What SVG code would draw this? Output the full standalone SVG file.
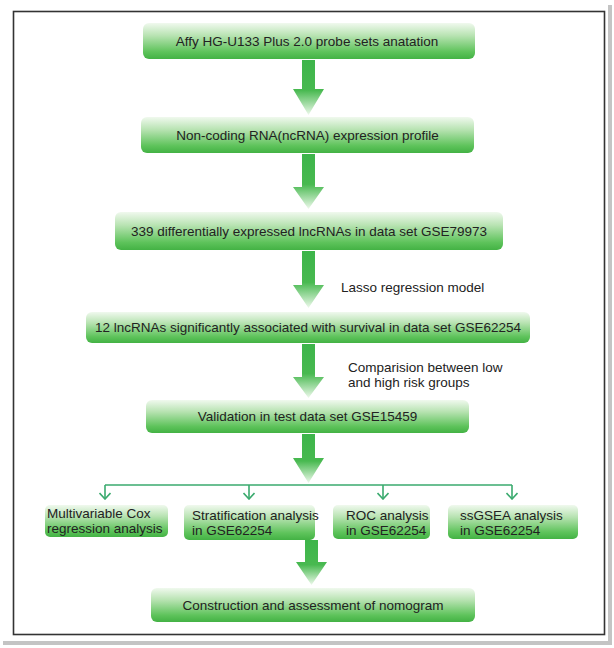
<svg xmlns="http://www.w3.org/2000/svg" width="614" height="648" viewBox="0 0 614 648">
<defs>
<linearGradient id="boxg" x1="0" y1="0" x2="0" y2="1">
<stop offset="0" stop-color="#f0f9ee"/>
<stop offset="0.35" stop-color="#b8e3b2"/>
<stop offset="0.8" stop-color="#5ec35b"/>
<stop offset="1" stop-color="#43b244"/>
</linearGradient>
<linearGradient id="arrg" x1="0" y1="0" x2="0" y2="1">
<stop offset="0" stop-color="#3db54a"/>
<stop offset="0.55" stop-color="#48b950"/>
<stop offset="1" stop-color="#eef9ec"/>
</linearGradient>
<marker id="chev" viewBox="0 0 10 12" refX="9" refY="6" markerWidth="10" markerHeight="12" markerUnits="userSpaceOnUse" orient="auto">
<path d="M3,0.5 L9,6 L3,11.5" fill="none" stroke="#3aaa6e" stroke-width="1.6"/>
</marker>
</defs>
<style>
.box{fill:url(#boxg);}
.t{font-family:"Liberation Sans",Arial,sans-serif;font-size:13.5px;fill:#222;}
.c{text-anchor:middle;}
.arr{fill:url(#arrg);}
.ln{fill:none;stroke:#3aaa6e;stroke-width:1.6;}
</style>
<rect x="0" y="0" width="614" height="648" fill="#ffffff"/>
<rect x="608" y="5" width="4" height="640" fill="#c4c4c4"/>
<rect x="3" y="641" width="609" height="4" fill="#c4c4c4"/>
<rect x="13.5" y="11.5" width="591" height="623" fill="#ffffff" stroke="#333" stroke-width="1.6"/>

<g id="connectors">
<polygon class="arr" points="302,60 315,60 315,89 324,89 308.5,115 293,89 302,89"/>
<polygon class="arr" points="302,154 315,154 315,187 324,187 308.5,209 293,187 302,187"/>
<polygon class="arr" points="302,251 315,251 315,285 324,285 308.5,308 293,285 302,285"/>
<polygon class="arr" points="302,344 315,344 315,377 324,377 308.5,398 293,377 302,377"/>
<polygon class="arr" points="302,434 315,434 315,458 324,458 308.5,483 293,458 302,458"/>
<polygon class="arr" points="305,540 318,540 318,562 327,562 311.5,585 296,562 305,562"/>
<path class="ln" d="M105,485 H512"/>
<path class="ln" d="M105,485 V499" marker-end="url(#chev)"/>
<path class="ln" d="M249,485 V499" marker-end="url(#chev)"/>
<path class="ln" d="M383,485 V499" marker-end="url(#chev)"/>
<path class="ln" d="M512,485 V499" marker-end="url(#chev)"/>
<text class="t" x="341" y="292">Lasso regression model</text>
<text class="t" x="348" y="372">Comparision between low</text>
<text class="t" x="348" y="387">and high risk groups</text>
</g>

<g id="n1"><rect class="box" x="143" y="23" width="332" height="36" rx="6"/><text class="t c" x="307" y="41.5" dy="4.5">Affy HG-U133 Plus 2.0 probe sets anatation</text></g>
<g id="n2"><rect class="box" x="141" y="117" width="333" height="36" rx="6"/><text class="t c" x="307.5" y="135.5" dy="4.5">Non-coding RNA(ncRNA) expression profile</text></g>
<g id="n3"><rect class="box" x="115" y="212" width="388" height="38" rx="6"/><text class="t c" x="309" y="231" dy="4.5">339 differentially expressed lncRNAs in data set GSE79973</text></g>
<g id="n4"><rect class="box" x="86" y="312" width="444" height="31" rx="6"/><text class="t c" x="308" y="327.5" dy="4.5">12 lncRNAs significantly associated with survival in data set GSE62254</text></g>
<g id="n5"><rect class="box" x="146" y="400" width="323" height="33" rx="6"/><text class="t c" x="307.5" y="416.5" dy="4.5">Validation in test data set GSE15459</text></g>
<g id="n6"><rect class="box" x="45" y="505" width="123" height="32" rx="5"/><text class="t" x="47" y="518">Multivariable Cox</text><text class="t" x="47" y="533">regression analysis</text></g>
<g id="n7"><rect class="box" x="184" y="505" width="131" height="35" rx="5"/><text class="t" x="192" y="520">Stratification analysis</text><text class="t" x="192" y="535">in GSE62254</text></g>
<g id="n8"><rect class="box" x="333" y="505" width="97" height="34" rx="5"/><text class="t" x="346" y="520">ROC analysis</text><text class="t" x="346" y="535">in GSE62254</text></g>
<g id="n9"><rect class="box" x="448" y="505" width="130" height="34" rx="5"/><text class="t" x="460" y="520">ssGSEA analysis</text><text class="t" x="460" y="535">in GSE62254</text></g>
<g id="n10"><rect class="box" x="151" y="588" width="324" height="34" rx="6"/><text class="t c" x="313" y="605" dy="4.5">Construction and assessment of nomogram</text></g>
</svg>
